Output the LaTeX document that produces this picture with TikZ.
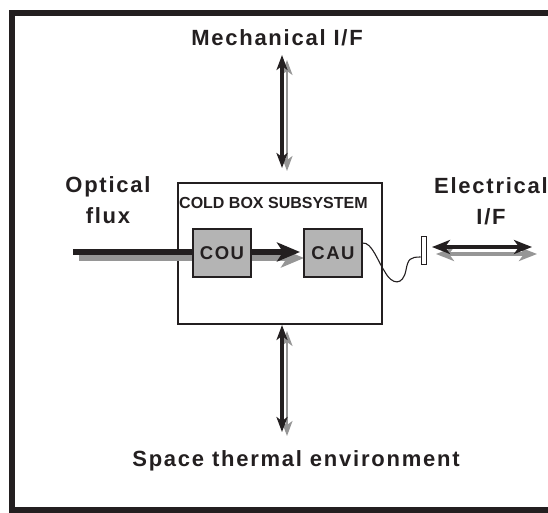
\documentclass[tikz,border=0pt]{standalone}
\usepackage{fontspec}
\setmainfont{Liberation Sans}
\newfontfamily\spacedfont[LetterSpace=8]{Liberation Sans}
\usetikzlibrary{arrows.meta,positioning}
\definecolor{ink}{RGB}{35,31,32}
\definecolor{shade}{RGB}{150,150,150}
\definecolor{unitgray}{RGB}{180,180,180}
\tikzset{
    biglabel/.style={font=\fontsize{22}{31}\selectfont\spacedfont\bfseries, text=ink,
        align=center, inner sep=0pt},
    unitbox/.style={draw=ink, line width=1.2pt, fill=unitgray, inner sep=0pt,
        minimum width=58pt, minimum height=48pt,
        font=\fontsize{18.5}{18}\selectfont\spacedfont\bfseries, text=ink},
    ifarrow/.style={{Stealth[length=15pt,width=11pt,inset=4pt]}-{Stealth[length=15pt,width=11pt,inset=4pt]}}
}

\begin{document}
\begin{tikzpicture}[
    x=1pt, y=-1pt,
    blackline/.style={draw=ink, fill=ink},
    greyline/.style={draw=shade, fill=shade}
]
\useasboundingbox (0,0) rectangle (548,512);
\clip (0,0) rectangle (548,512);
\draw[ink, line width=6pt] (12,13) rectangle (570,510);

% labels
\node[biglabel, anchor=base] (mech) at (277,45) {Mechanical I/F};
\node[biglabel, anchor=base] (space) at (296,466) {Space thermal environment};
\node[biglabel] (optical) at (108,200) {Optical\\flux};
\node[biglabel] (elec) at (491,201) {Electrical\\I/F};

% cold box
\node[draw=ink, line width=1.2pt, fill=white, minimum width=204pt, minimum height=141pt,
    inner sep=0pt] (coldbox) at (280,253.5) {};
\node[anchor=base west, inner sep=0pt, text=ink,
    font=\fontsize{16}{16}\selectfont\bfseries] (cbtitle) at (179,208) {COLD BOX SUBSYSTEM};

% optical flux beam
\coordinate (beamstart) at (73,252);
\coordinate (beamshade) at (79,258);
\coordinate (beamend) at (300,252);
\coordinate (beamendshade) at (304,258);
\draw[greyline, line width=6pt, -{Stealth[length=23pt,width=19pt,inset=6pt]}] (beamshade) -- (beamendshade);
\draw[blackline, line width=6pt, -{Stealth[length=23pt,width=19pt,inset=6pt]}] (beamstart) -- (beamend);

\node[unitbox] (cou) at (222,253) {COU};
\node[unitbox] (cau) at (333,253) {CAU};

% connector
\node[draw=ink, line width=0.8pt, fill=white, minimum width=5pt, minimum height=28pt,
    inner sep=0pt] (plug) at (423.5,250) {};
\draw[ink, line width=1.1pt] ([yshift=10pt]cau.east) .. controls (372,242) and (378,262) .. (385,272)
    .. controls (392,285) and (403,286) .. (406,270)
    .. controls (408,259) and (410,257) .. ([yshift=-7pt]plug.west);

% interface arrows
\coordinate (mtop) at (282,55);
\coordinate (mbot) at (282,168);
\coordinate (ttop) at (282,325);
\coordinate (tbot) at (282,432);
\draw[greyline, line width=2pt, ifarrow] ([xshift=5pt,yshift=-5pt]mtop) -- ([xshift=5pt,yshift=-3pt]mbot);
\draw[blackline, line width=4.5pt, ifarrow] (mtop) -- (mbot);
\draw[greyline, line width=2pt, ifarrow] ([xshift=5pt,yshift=-6pt]ttop) -- ([xshift=5pt,yshift=-4pt]tbot);
\draw[blackline, line width=4.5pt, ifarrow] (ttop) -- (tbot);

\coordinate (eleft) at (432,247);
\coordinate (eright) at (532,247);
\draw[greyline, line width=4pt, {Stealth[length=18pt,width=14pt,inset=5pt]}-{Stealth[length=18pt,width=14pt,inset=5pt]}]
    ([xshift=4pt,yshift=-7pt]eleft) -- ([xshift=5pt,yshift=-7pt]eright);
\draw[blackline, line width=4pt, {Stealth[length=18pt,width=14pt,inset=5pt]}-{Stealth[length=18pt,width=14pt,inset=5pt]}]
    (eleft) -- (eright);
\end{tikzpicture}
\end{document}
